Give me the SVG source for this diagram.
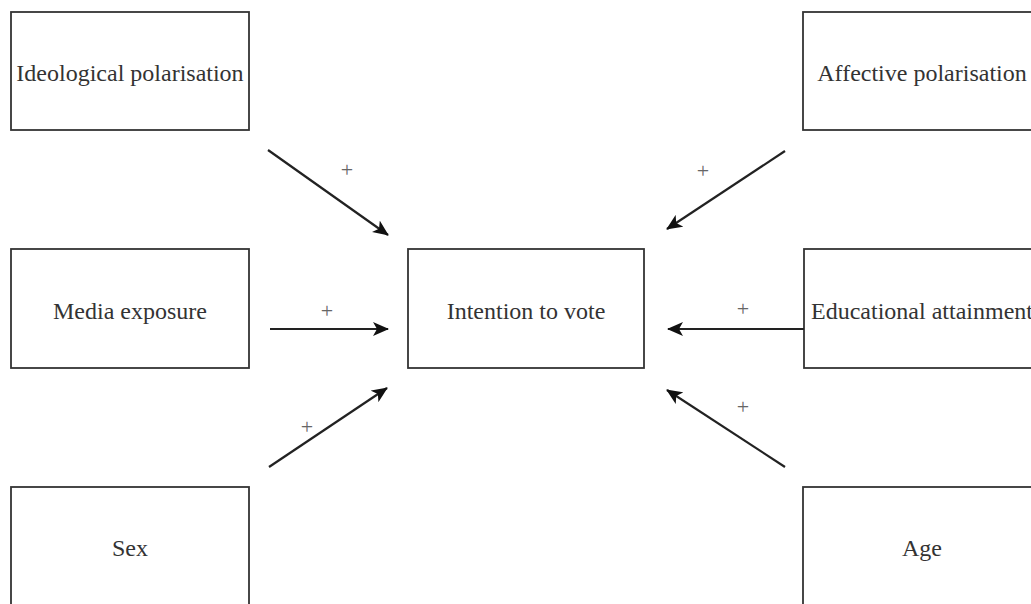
<svg xmlns="http://www.w3.org/2000/svg" width="1031" height="604" viewBox="0 0 1031 604">
<style>
.box{fill:#fff;stroke:#333;stroke-width:1.8}
.lbl{font-family:"Liberation Serif","Times New Roman",serif;font-size:24px;fill:#333;text-anchor:middle}
.plus{font-family:"Liberation Serif","Times New Roman",serif;font-size:22px;fill:#666;text-anchor:middle}
.edge{stroke:#222;stroke-width:2.2;fill:none;marker-end:url(#ah)}
</style>
<defs>
<marker id="ah" viewBox="0 0 16 14" markerWidth="16" markerHeight="14" refX="15" refY="7" orient="auto" markerUnits="userSpaceOnUse">
<path d="M0,0 L16,7 L0,14 L4,7 z" fill="#111"/>
</marker>
</defs>
<rect width="1031" height="604" fill="#fff"/>
<g id="ideological"><rect class="box" x="11" y="12" width="238" height="118"/><text class="lbl" x="130" y="81">Ideological polarisation</text></g>
<g id="affective"><rect class="box" x="803" y="12" width="238" height="118"/><text class="lbl" x="922" y="81">Affective polarisation</text></g>
<g id="media"><rect class="box" x="11" y="249" width="238" height="119"/><text class="lbl" x="130" y="319">Media exposure</text></g>
<g id="intention"><rect class="box" x="408" y="249" width="236" height="119"/><text class="lbl" x="526" y="319">Intention to vote</text></g>
<g id="education"><rect class="box" x="804" y="249" width="238" height="119"/><text class="lbl" x="922" y="319">Educational attainment</text></g>
<g id="sex"><rect class="box" x="11" y="487" width="238" height="130"/><text class="lbl" x="130" y="556">Sex</text></g>
<g id="age"><rect class="box" x="803" y="487" width="238" height="130"/><text class="lbl" x="922" y="556">Age</text></g>
<g id="connectors">
<line class="edge" x1="268" y1="150" x2="388" y2="235"/>
<line class="edge" x1="785" y1="151" x2="667" y2="229"/>
<line class="edge" x1="270" y1="329" x2="388" y2="329"/>
<line class="edge" x1="804" y1="329" x2="668" y2="329"/>
<line class="edge" x1="269" y1="467" x2="387" y2="388"/>
<line class="edge" x1="785" y1="467" x2="667" y2="390"/>
<text class="plus" x="347" y="177">+</text>
<text class="plus" x="703" y="178">+</text>
<text class="plus" x="327" y="318">+</text>
<text class="plus" x="743" y="316">+</text>
<text class="plus" x="307" y="434">+</text>
<text class="plus" x="743" y="414">+</text>
</g>
</svg>
